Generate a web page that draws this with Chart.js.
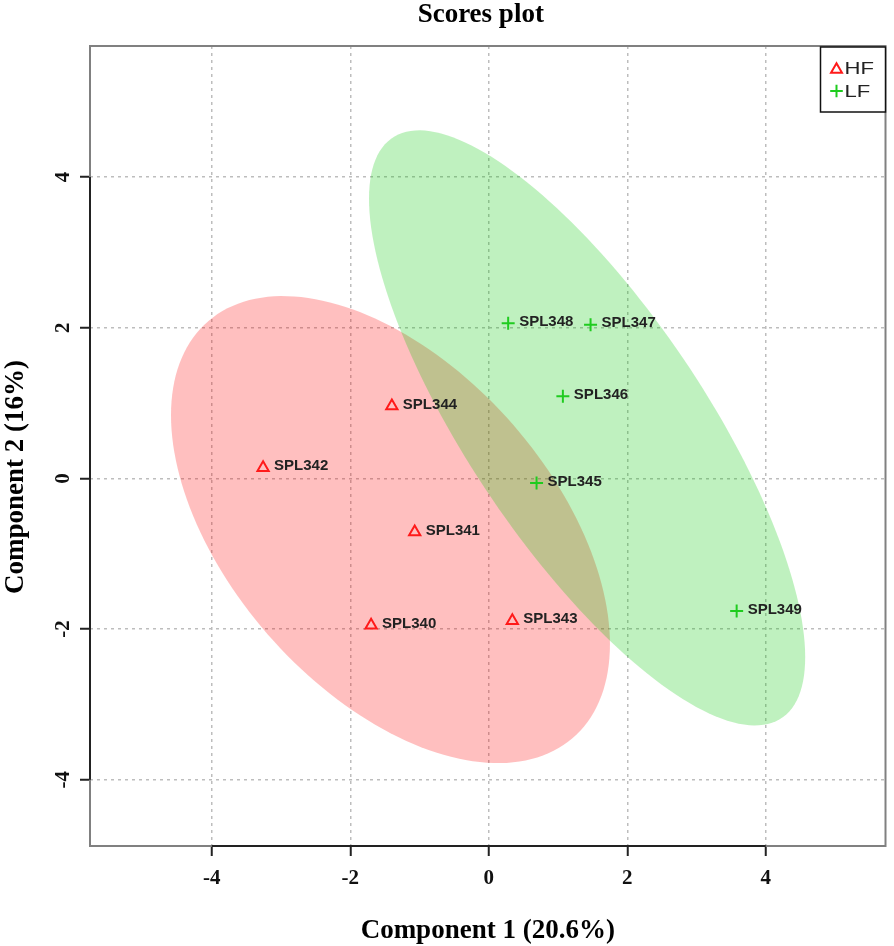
<!DOCTYPE html>
<html>
<head>
<meta charset="utf-8">
<title>Scores plot</title>
<script src="https://cdn.jsdelivr.net/npm/chart.js@4.4.1/dist/chart.umd.min.js"></script>
<style>
    html, body { margin: 0; padding: 0; background: #fff; }
</style>
</head>
<body>
<canvas id="scoresChart" width="894" height="946"></canvas>
<script>
// Sample scores (component 1, component 2)
const hfLabels = ['SPL340', 'SPL341', 'SPL342', 'SPL343', 'SPL344'];
const hfX = [-1.70, -1.07, -3.26, 0.34, -1.40];
const hfY = [-1.95, -0.71, 0.14, -1.89, 0.96];

const lfLabels = ['SPL345', 'SPL346', 'SPL347', 'SPL348', 'SPL349'];
const lfX = [0.69, 1.07, 1.47, 0.28, 3.58];
const lfY = [-0.06, 1.09, 2.04, 2.06, -1.76];

// Confidence ellipses: centre, half extent on each axis, correlation
const groupNames = ['HF', 'LF'];
const ellipseCenterX = [-1.42, 1.42];
const ellipseCenterY = [-0.68, 0.67];
const ellipseHalfX = [3.17, 3.15];
const ellipseHalfY = [3.10, 3.95];
const ellipseCorr = [-0.49, -0.77];

const xTicks = [-4, -2, 0, 2, 4];
const yTicks = [-4, -2, 0, 2, 4];

const GROUP_COLORS = ['#FF1A1A', '#1FCC1F'];
const ELLIPSE_FILLS = ['rgba(255, 0, 0, 0.25)', 'rgba(0, 200, 0, 0.25)'];
const POINT_STYLES = ['triangle', 'cross'];

function toPoints(xs, ys) {
    return xs.map((x, i) => ({ x: x, y: ys[i] }));
}

// Shaded ellipses, drawn under the points
const ellipsePlugin = {
    id: 'ellipses',
    beforeDatasetsDraw(chart) {
        const { ctx, chartArea, scales } = chart;
        ctx.save();
        ctx.beginPath();
        ctx.rect(chartArea.left, chartArea.top, chartArea.right - chartArea.left, chartArea.bottom - chartArea.top);
        ctx.clip();
        groupNames.forEach((g, i) => {
            const r = ellipseCorr[i];
            const s = Math.sqrt(1 - r * r);
            ctx.beginPath();
            for (let k = 0; k <= 180; k++) {
                const t = k / 180 * Math.PI * 2;
                const dx = ellipseCenterX[i] + ellipseHalfX[i] * Math.cos(t);
                const dy = ellipseCenterY[i] + ellipseHalfY[i] * (r * Math.cos(t) + s * Math.sin(t));
                const px = scales.x.getPixelForValue(dx);
                const py = scales.y.getPixelForValue(dy);
                if (k === 0) ctx.moveTo(px, py); else ctx.lineTo(px, py);
            }
            ctx.closePath();
            ctx.fillStyle = ELLIPSE_FILLS[i];
            ctx.fill();
        });
        ctx.restore();
    }
};

// Sample names next to each point
const pointLabelPlugin = {
    id: 'pointLabels',
    afterDatasetsDraw(chart) {
        const { ctx } = chart;
        ctx.save();
        ctx.font = 'bold 15px "Liberation Sans", Arial, sans-serif';
        ctx.fillStyle = '#222';
        ctx.textAlign = 'left';
        ctx.textBaseline = 'middle';
        chart.data.datasets.forEach((ds, di) => {
            const meta = chart.getDatasetMeta(di);
            meta.data.forEach((el, j) => {
                ctx.fillText(ds.names[j], el.x + 11, el.y - 1.5);
            });
        });
        ctx.restore();
    }
};

// Box, R-style axis lines, legend and titles
const framePlugin = {
    id: 'frame',
    afterDraw(chart) {
        const { ctx, chartArea, scales } = chart;
        const { left, right, top, bottom } = chartArea;
        ctx.save();

        ctx.strokeStyle = '#808080';
        ctx.lineWidth = 2;
        ctx.strokeRect(left, top, right - left, bottom - top);

        ctx.strokeStyle = '#222';
        ctx.lineWidth = 2;
        ctx.beginPath();
        ctx.moveTo(scales.x.getPixelForValue(xTicks[0]), bottom);
        ctx.lineTo(scales.x.getPixelForValue(xTicks[xTicks.length - 1]), bottom);
        ctx.moveTo(left, scales.y.getPixelForValue(yTicks[0]));
        ctx.lineTo(left, scales.y.getPixelForValue(yTicks[yTicks.length - 1]));
        ctx.stroke();

        // legend
        const lx = right - 65;
        const ly = top + 1;
        ctx.fillStyle = '#fff';
        ctx.fillRect(lx, ly, 65, 65);
        ctx.strokeStyle = '#111';
        ctx.lineWidth = 1.5;
        ctx.strokeRect(lx, ly, 65, 65);
        groupNames.forEach((g, i) => {
            const cy = ly + 21 + i * 23;
            ctx.strokeStyle = GROUP_COLORS[i];
            ctx.fillStyle = 'rgba(0,0,0,0)';
            ctx.lineWidth = 2;
            Chart.helpers.drawPoint(ctx, {
                pointStyle: POINT_STYLES[i],
                radius: 6.3,
                borderWidth: 2
            }, lx + 16, cy + (i === 0 ? 1.5 : 0));
            ctx.save();
            ctx.translate(lx + 24, cy);
            ctx.scale(1.3, 1);
            ctx.font = '17px "Liberation Sans", Arial, sans-serif';
            ctx.fillStyle = '#222';
            ctx.textAlign = 'left';
            ctx.textBaseline = 'middle';
            ctx.fillText(g, 0, 1);
            ctx.restore();
        });

        // titles
        ctx.fillStyle = '#000';
        ctx.font = 'bold 27px "Liberation Serif", "Times New Roman", serif';
        ctx.textAlign = 'center';
        ctx.textBaseline = 'alphabetic';
        ctx.fillText('Scores plot', (left + right) / 2 - 7, 22);
        ctx.fillText('Component 1 (20.6%)', (left + right) / 2, 938);

        ctx.save();
        ctx.translate(23, 477);
        ctx.rotate(-Math.PI / 2);
        ctx.fillText('Component 2 (16%)', 0, 0);
        ctx.restore();

        ctx.restore();
    }
};

const tickFont = { family: '"Liberation Serif", "Times New Roman", serif', weight: 'bold', size: 21 };

const gridOpts = {
    color: '#bdbdbd',
    lineWidth: 1.5,
    tickColor: '#222',
    tickWidth: 2,
    tickLength: 10,
    tickBorderDash: []
};

new Chart(document.getElementById('scoresChart'), {
    type: 'scatter',
    data: {
        datasets: [
            {
                label: 'HF',
                names: hfLabels,
                data: toPoints(hfX, hfY),
                pointStyle: POINT_STYLES[0],
                pointRadius: 6.5,
                pointHoverRadius: 6.5,
                borderColor: GROUP_COLORS[0],
                backgroundColor: 'rgba(0,0,0,0)',
                borderWidth: 2
            },
            {
                label: 'LF',
                names: lfLabels,
                data: toPoints(lfX, lfY),
                pointStyle: POINT_STYLES[1],
                pointRadius: 6.5,
                pointHoverRadius: 6.5,
                borderColor: GROUP_COLORS[1],
                backgroundColor: 'rgba(0,0,0,0)',
                borderWidth: 2
            }
        ]
    },
    options: {
        responsive: false,
        animation: false,
        layout: { padding: { top: 46, right: 6, bottom: 0, left: 0 } },
        plugins: {
            legend: { display: false },
            tooltip: { enabled: false },
            title: { display: false }
        },
        scales: {
            x: {
                type: 'linear',
                min: -5.76,
                max: 5.73,
                afterBuildTicks: s => { s.ticks = xTicks.map(v => ({ value: v })); },
                afterFit: s => { s.height = 100; },
                grid: gridOpts,
                border: { display: false, dash: [3, 4] },
                ticks: { font: tickFont, color: '#111', padding: 10, maxRotation: 0 }
            },
            y: {
                type: 'linear',
                min: -4.88,
                max: 5.74,
                afterBuildTicks: s => { s.ticks = yTicks.map(v => ({ value: v })); },
                afterFit: s => { s.width = 90; },
                grid: gridOpts,
                border: { display: false, dash: [3, 4] },
                ticks: {
                    font: tickFont,
                    color: '#111',
                    padding: 8,
                    minRotation: 90,
                    maxRotation: 90,
                    crossAlign: 'center'
                }
            }
        }
    },
    plugins: [ellipsePlugin, pointLabelPlugin, framePlugin]
});
</script>
</body>
</html>
